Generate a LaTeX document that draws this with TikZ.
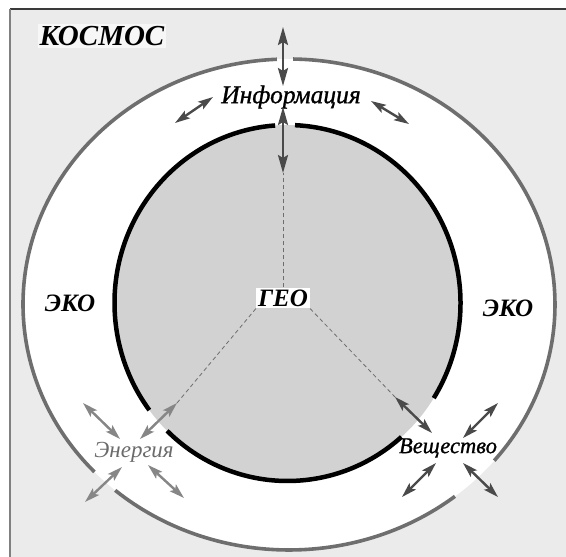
\documentclass[tikz,border=0pt]{standalone}
\usepackage{fontspec}
\setmainfont{Liberation Serif}
\newfontfamily\heavyit{Liberation Serif}[UprightFont=* Italic, FakeBold=1]
\usetikzlibrary{arrows.meta,calc}
\definecolor{bgc}{HTML}{EBEBEB}
\definecolor{innerc}{HTML}{D2D2D2}
\definecolor{ringc}{HTML}{6E6E6E}
\definecolor{arrc}{HTML}{4A4A4A}
\definecolor{arrl}{HTML}{868686}
\definecolor{framec}{HTML}{3A3A3A}
\tikzset{
  dbl/.style={line width=2.4pt, arrc, {Stealth[length=15pt,width=9pt,inset=3pt]}-{Stealth[length=15pt,width=9pt,inset=3pt]}},
  dblbig/.style={line width=2.4pt, arrc, {Stealth[length=18pt,width=10pt,inset=3pt]}-{Stealth[length=18pt,width=10pt,inset=3pt]}},
  dbllight/.style={dbl, arrl},
  geodash/.style={arrc!80, line width=0.8pt, dash pattern=on 4pt off 3pt},
  outerring/.style={ringc, line width=3.6pt},
  innerring/.style={black, line width=4.5pt},
  lab/.style={inner sep=2pt, font=\itshape}
}
\begin{document}
\begin{tikzpicture}[x=1pt,y=-1pt]
\useasboundingbox (0,0) rectangle (566,557);
\fill[white] (0,0) rectangle (566,557);
\fill[bgc] (10,9) rectangle (566,557);
\draw[framec, line width=1.4pt] (10,9) -- (566,9);
\draw[gray, line width=1.6pt] (10,9) -- (10,557);
\coordinate (O) at (289,304.5);
\coordinate (I) at (287.5,303);
% fills
\fill[white] (O) ellipse[x radius=266, y radius=245.5];
\fill[innerc] (I) ellipse[x radius=173, y radius=178];
% outer ring pieces
\draw[outerring] ($(O)+(-92.6:266 and 245.5)$) arc[start angle=-92.6, end angle=-223, x radius=266, y radius=245.5];
\draw[outerring] ($(O)+(-229.2:266 and 245.5)$) arc[start angle=-229.2, end angle=-308.6, x radius=266, y radius=245.5];
\draw[outerring] ($(O)+(-320.5:266 and 245.5)$) arc[start angle=-320.5, end angle=-449.1, x radius=266, y radius=245.5];
% inner ring pieces
\draw[innerring] ($(I)+(-94.1:173 and 178)$) arc[start angle=-94.1, end angle=-217, x radius=173, y radius=178];
\draw[innerring] ($(I)+(-225.9:173 and 178)$) arc[start angle=-225.9, end angle=-311.2, x radius=173, y radius=178];
\draw[innerring] ($(I)+(-327.7:173 and 178)$) arc[start angle=-327.7, end angle=-447.5, x radius=173, y radius=178];
% labels
\node[lab, fill=white!60!bgc, font=\bfseries\itshape\fontsize{29}{30}\selectfont] (kosmos) at (102,36) {КОСМОС};
\node[lab, font=\heavyit\fontsize{25.5}{26}\selectfont] (info) at (291,97) {Информация};
\node[lab, font=\bfseries\itshape\fontsize{25}{26}\selectfont] (ekoL) at (70,303) {ЭКО};
\node[lab, font=\bfseries\itshape\fontsize{25}{26}\selectfont] (ekoR) at (508,308) {ЭКО};
\node[lab, fill=white, font=\bfseries\itshape\fontsize{25}{26}\selectfont] (geo) at (283,298) {ГЕО};
\node[lab, text=arrl!80!black, font=\itshape\fontsize{23}{24}\selectfont] (energy) at (134,452) {Энергия};
\node[lab, font=\heavyit\fontsize{22.5}{23}\selectfont] (vesh) at (448,448) {Вещество};
% arrow endpoints
\coordinate (t1a) at (283,27); \coordinate (t1b) at (283,86);
\coordinate (t2a) at (283,107); \coordinate (t2b) at (283,173);
\coordinate (ila) at (175,123); \coordinate (ilb) at (213,97);
\coordinate (ira) at (371,101); \coordinate (irb) at (409,124);
\coordinate (eula) at (83,403); \coordinate (eulb) at (120,439);
\coordinate (eura) at (140,439); \coordinate (eurb) at (177,403);
\coordinate (edla) at (122,467); \coordinate (edlb) at (85,502);
\coordinate (edra) at (148,465); \coordinate (edrb) at (184,498);
\coordinate (vula) at (395,397); \coordinate (vulb) at (432,433);
\coordinate (vura) at (498,403); \coordinate (vurb) at (463,438);
\coordinate (vdla) at (436,463); \coordinate (vdlb) at (402,497);
\coordinate (vdra) at (463,463); \coordinate (vdrb) at (498,497);
% dashed links
\draw[geodash] (geo.north) -- (t2b);
\draw[geodash] (geo.south west) -- (eurb);
\draw[geodash] (geo.south east) -- (vula);
% arrows
\draw[dblbig] (t1a) -- (t1b);
\draw[dblbig] (t2a) -- (t2b);
\draw[dbl] (ila) -- (ilb);
\draw[dbl] (ira) -- (irb);
\draw[dbllight] (eula) -- (eulb);
\draw[dbllight] (eura) -- (eurb);
\draw[dbllight] (edla) -- (edlb);
\draw[dbllight] (edra) -- (edrb);
\draw[dbl] (vula) -- (vulb);
\draw[dbl] (vura) -- (vurb);
\draw[dbl] (vdla) -- (vdlb);
\draw[dbl] (vdra) -- (vdrb);
\end{tikzpicture}
\end{document}
